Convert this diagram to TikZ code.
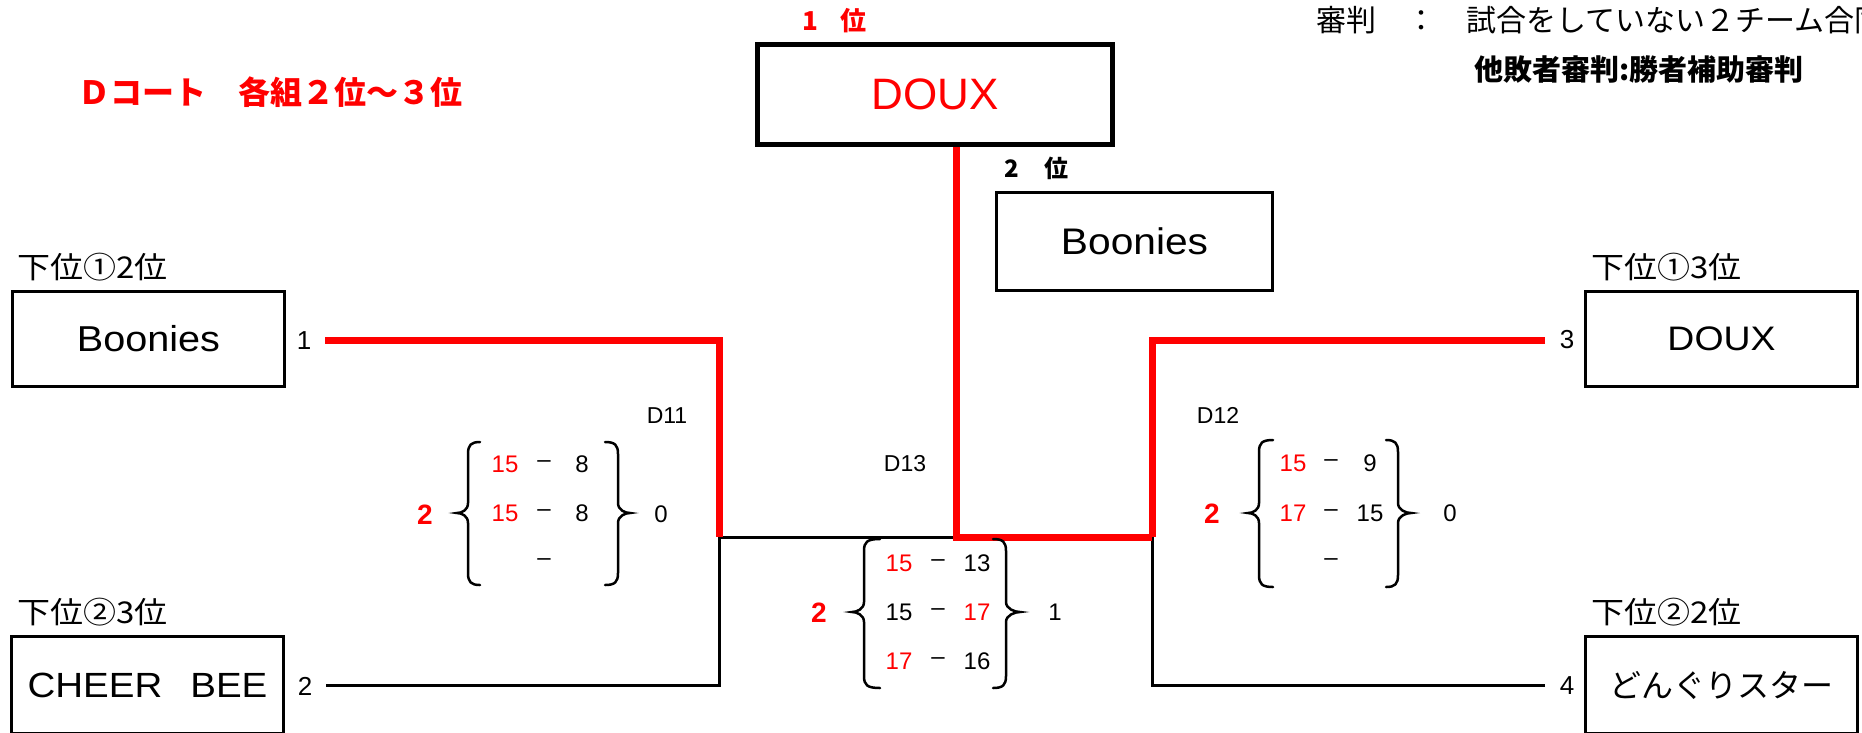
\documentclass[tikz,border=0pt]{standalone}
\usepackage{fontspec}
\setmainfont{Liberation Sans}
\newfontfamily\cjk{Noto Sans CJK JP}
\newfontfamily\cjkwide[FakeStretch=1.1]{Noto Sans CJK JP}
\newfontfamily\widesans[FakeStretch=1.1]{Liberation Sans}
\newcommand{\myLbrace}[6]{% tip, stroke, hook, top, mid, bottom
\draw[brc] (#3,#4) .. controls (#2+3,#4) and (#2,#4+3) .. (#2,#4+12)
 -- (#2,#5-10) .. controls (#2,#5-3) and (#1+5,#5) .. (#1,#5)
 .. controls (#1+5,#5) and (#2,#5+3) .. (#2,#5+10)
 -- (#2,#6-12) .. controls (#2,#6-3) and (#2+3,#6) .. (#3,#6);}
\newcommand{\myRbrace}[6]{% tip, stroke, hook, top, mid, bottom
\draw[brc] (#3,#4) .. controls (#2-3,#4) and (#2,#4+3) .. (#2,#4+12)
 -- (#2,#5-10) .. controls (#2,#5-3) and (#1-5,#5) .. (#1,#5)
 .. controls (#1-5,#5) and (#2,#5+3) .. (#2,#5+10)
 -- (#2,#6-12) .. controls (#2,#6-3) and (#2-3,#6) .. (#3,#6);}
\begin{document}
\begin{tikzpicture}[x=1pt,y=-1pt,
 box/.style={draw, line width=3pt, inner sep=0pt, minimum width=272pt, minimum height=95pt},
 lbl/.style={inner sep=0pt, font=\cjkwide\fontsize{30}{30}\selectfont, anchor=west},
 num/.style={inner sep=0pt, font=\fontsize{24}{24}\selectfont},
 seed/.style={inner sep=0pt, font=\fontsize{26}{26}\selectfont},
 rnum/.style={num, text=red},
 win/.style={inner sep=0pt, text=red, font=\bfseries\fontsize{28}{28}\selectfont},
 redl/.style={draw=red, line width=7pt, line join=miter},
 blkl/.style={draw=black, line width=3pt, line join=miter},
 brc/.style={draw, line width=2.5pt, line cap=round}]
\useasboundingbox (0,0) rectangle (1862,732);
\fill[white] (0,0) rectangle (1862,732);
\clip (0,0) rectangle (1862,732);

% header texts
\node[inner sep=0pt, anchor=west, text=red, font=\cjk\bfseries\fontsize{32}{32}\selectfont] (title) at (78,92) {Ｄコート　各組２位～３位};
\node[inner sep=0pt, anchor=west, font=\cjk\fontsize{30}{30}\selectfont] (ref1) at (1316,20) {審判　：　試合をしていない２チーム合同};
\node[inner sep=0pt, anchor=west, font=\cjk\bfseries\fontsize{29}{29}\selectfont] (ref2) at (1474,70) {他敗者審判:勝者補助審判};

% winner boxes
\node[inner sep=0pt, anchor=west, text=red, font=\cjk\bfseries\fontsize{26}{26}\selectfont] (first) at (802,21) {1\hspace{22pt}位};
\node[draw, line width=5pt, inner sep=0pt, minimum width=355pt, minimum height=100pt, text=red, font=\fontsize{44}{44}\selectfont] (top) at (935,94.5) {DOUX};
\node[inner sep=0pt, anchor=west, font=\cjk\bfseries\fontsize{24}{24}\selectfont] (second) at (1004,168) {2\hspace{26pt}位};
\node[box, minimum width=276pt, minimum height=98pt, font=\widesans\fontsize{37}{37}\selectfont] (sec) at (1134.5,241.5) {Boonies};

% team boxes
\node[box, font=\widesans\fontsize{36}{36}\selectfont] (t1) at (148.5,339) {Boonies};
\node[lbl] (l1) at (17,267) {下位①2位};
\node[box, minimum height=97pt, font=\widesans\fontsize{35}{35}\selectfont] (t2) at (147.5,685) {CHEER\hspace{28pt}BEE};
\node[lbl] (l2) at (17,612) {下位②3位};
\node[box, font=\widesans\fontsize{34}{34}\selectfont] (t3) at (1721.5,339) {DOUX};
\node[lbl] (l3) at (1591,267) {下位①3位};
\node[box, minimum height=97pt, font=\cjk\fontsize{32}{32}\selectfont] (t4) at (1721.5,685) {どんぐりスター};
\node[lbl] (l4) at (1591,612) {下位②2位};

% seed numbers
\node[seed] (n1) at (304,341) {1};
\node[seed] (n2) at (305,686) {2};
\node[seed] (n3) at (1567,340) {3};
\node[seed] (n4) at (1567,686) {4};

% bracket coordinates
\coordinate (s1) at (325,340);
\coordinate (s2) at (326,685);
\coordinate (s3) at (1545,340);
\coordinate (s4) at (1545,685);
\coordinate (jL) at (719,537);
\coordinate (jM) at (956.5,537);
\coordinate (jR) at (1152,537);

% black lines
\draw[blkl] (s2) -| (jL);
\draw[blkl] (jL) -- (jM);
\draw[blkl] (s4) -| (jR);
% red (winning) lines
\draw[redl] (s1) -| (jL);
\draw[redl] (s3) -| (jR);
\draw[redl] (top.south -| jM) -- (jM) -- (jR);

% D11
\node[num, font=\fontsize{23}{23}\selectfont] (d11) at (667,416) {D11};
\node[win] (w11) at (425,515) {2};
\myLbrace{457}{468}{480}{442}{513}{585}
\myRbrace{630}{618}{605}{442}{513}{585}
\node[rnum] (a1l) at (505,464) {15};
\node[num] (a1d) at (544,464) {–};
\node[num] (a1r) at (582,464) {8};
\node[rnum] (a2l) at (505,513) {15};
\node[num] (a2d) at (544,513) {–};
\node[num] (a2r) at (582,513) {8};
\node[num] (a3d) at (544,562) {–};
\node[num] (lo11) at (661,514) {0};

% D13
\node[num, font=\fontsize{23}{23}\selectfont] (d13) at (905,464) {D13};
\node[win] (w13) at (819,613) {2};
\myLbrace{852}{864}{880}{539}{612}{688}
\myRbrace{1020}{1006}{993}{539}{612}{688}
\node[rnum] (b1l) at (899,563) {15};
\node[num] (b1d) at (938,563) {–};
\node[num] (b1r) at (977,563) {13};
\node[num] (b2l) at (899,612) {15};
\node[num] (b2d) at (938,612) {–};
\node[rnum] (b2r) at (977,612) {17};
\node[rnum] (b3l) at (899,661) {17};
\node[num] (b3d) at (938,661) {–};
\node[num] (b3r) at (977,661) {16};
\node[num] (lo13) at (1055,612) {1};

% D12
\node[num, font=\fontsize{23}{23}\selectfont] (d12) at (1218,415) {D12};
\node[win] (w12) at (1212,514) {2};
\myLbrace{1248}{1259}{1273}{440}{513}{587}
\myRbrace{1411}{1398}{1386}{440}{513}{587}
\node[rnum] (c1l) at (1293,463) {15};
\node[num] (c1d) at (1331,463) {–};
\node[num] (c1r) at (1370,463) {9};
\node[rnum] (c2l) at (1293,513) {17};
\node[num] (c2d) at (1331,513) {–};
\node[num] (c2r) at (1370,513) {15};
\node[num] (c3d) at (1331,562) {–};
\node[num] (lo12) at (1450,513) {0};
\end{tikzpicture}
\end{document}
